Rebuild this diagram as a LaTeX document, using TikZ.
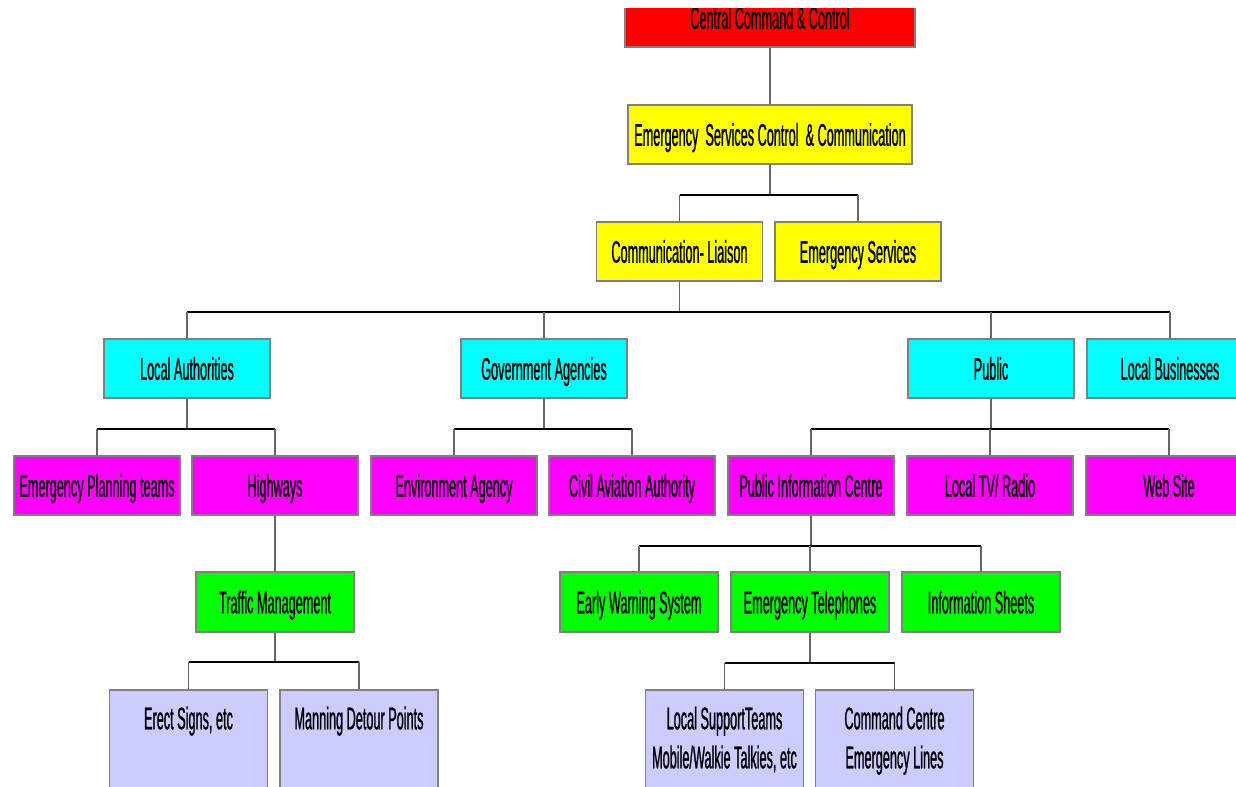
\documentclass[tikz,border=0pt]{standalone}
\usepackage{fontspec}
\newfontfamily\nar[FakeStretch=0.405,FakeBold=0.8]{Liberation Sans}
\definecolor{lav}{RGB}{204,204,255}
\definecolor{bord}{RGB}{128,128,128}
\definecolor{cred}{RGB}{255,0,0}
\definecolor{cyel}{RGB}{255,255,0}
\definecolor{ccya}{RGB}{0,255,255}
\definecolor{cmag}{RGB}{255,0,255}
\definecolor{cgrn}{RGB}{0,255,0}
\begin{document}
\begin{tikzpicture}[x=0.75pt,y=-0.75pt,
  tf/.style={font=\nar\fontsize{23.5pt}{29pt}\selectfont, text height=22.3pt, text depth=5.4pt},
  bx/.style={draw=bord, line width=1.2pt, inner sep=0pt, minimum height=59*0.75pt, minimum width=166*0.75pt, tf},
  yb/.style={bx, fill=cyel},
  cb/.style={bx, fill=ccya},
  mb/.style={bx, fill=cmag},
  gb/.style={bx, fill=cgrn, minimum width=158*0.75pt, minimum height=60*0.75pt},
  lb/.style={bx, fill=lav, minimum width=158*0.75pt, minimum height=140*0.75pt, anchor=north},
  txt/.style={inner sep=0pt, tf},
  vl/.style={draw=black!60, line width=1.3pt},
  hl/.style={draw=black, line width=1.6pt}]
\useasboundingbox (0,0) rectangle (1236,786);
\fill[white] (0,0) rectangle (1236,786);
\begin{scope}
\clip (0,8) rectangle (1236,786);
% level 0
\node[bx, fill=cred, minimum width=290*0.75pt] (cc) at (770,17.5) {Central Command \& Control};
% level 1
\node[yb, minimum width=284*0.75pt] (escc) at (770,134.5) {Emergency~ Services Control~ \& Communication};
% level 2
\node[yb] (cl) at (679.5,251.5) {Communication- Liaison};
\node[yb] (es) at (858,251.5) {Emergency Services};
% level 3
\node[cb] (la) at (187,368.5) {Local Authorities};
\node[cb] (ga) at (544,368.5) {Government Agencies};
\node[cb] (pub) at (991,368.5) {Public};
\node[cb] (lbz) at (1170,368.5) {Local Businesses};
% level 4
\node[mb] (ept) at (97,485.5) {Emergency Planning teams};
\node[mb] (hw) at (275,485.5) {Highways};
\node[mb] (env) at (454,485.5) {Environment Agency};
\node[mb] (caa) at (632,485.5) {Civil Aviation Authority};
\node[mb] (pic) at (811,485.5) {Public Information Centre};
\node[mb] (tv) at (990,485.5) {Local TV/ Radio};
\node[mb] (web) at (1169,485.5) {Web Site};
% level 5
\node[gb] (tm) at (275,602) {Traffic Management};
\node[gb] (ew) at (639,602) {Early Warning System};
\node[gb] (et) at (810,602) {Emergency Telephones};
\node[gb] (is) at (981,602) {Information Sheets};
% level 6
\node[lb] (erect) at (188.5,689) {};
\node[lb] (md) at (359,689) {};
\node[lb] (lst) at (724.5,689) {};
\node[lb] (ccl) at (894.5,689) {};
\node[txt] (erect-t) at (188.5,718) {Erect Signs, etc};
\node[txt] (md-t) at (359,718) {Manning Detour Points};
\node[txt] (lst-t1) at (724.5,718) {Local SupportTeams};
\node[txt] (lst-t2) at (724.5,757) {Mobile/Walkie Talkies, etc};
\node[txt] (ccl-t1) at (894.5,718) {Command Centre};
\node[txt] (ccl-t2) at (894.5,757) {Emergency Lines};
\end{scope}
% connectors
\draw[vl] (cc.south) -- (escc.north);
\coordinate (j1) at (770,195);
\draw[vl] (escc.south) -- (j1);
\draw[hl] (cl.north |- j1) -- (es.north |- j1);
\draw[vl] (cl.north |- j1) -- (cl.north);
\draw[vl] (es.north |- j1) -- (es.north);
% to level 3
\coordinate (j2) at (679.5,312);
\draw[vl] (cl.south) -- (j2);
\draw[hl] (la.north |- j2) -- (lbz.north |- j2);
\foreach \n in {la,ga,pub,lbz} {\draw[vl] (\n.north |- j2) -- (\n.north);}
% local authorities
\coordinate (j3) at (187,429);
\draw[vl] (la.south) -- (j3);
\draw[hl] (ept.north |- j3) -- (hw.north |- j3);
\foreach \n in {ept,hw} {\draw[vl] (\n.north |- j3) -- (\n.north);}
% government agencies
\coordinate (j4) at (544,429);
\draw[vl] (ga.south) -- (j4);
\draw[hl] (env.north |- j4) -- (caa.north |- j4);
\foreach \n in {env,caa} {\draw[vl] (\n.north |- j4) -- (\n.north);}
% public
\coordinate (j5) at (991,429);
\draw[vl] (pub.south) -- (j5);
\draw[hl] (pic.north |- j5) -- (web.north |- j5);
\foreach \n in {pic,tv,web} {\draw[vl] (\n.north |- j5) -- (\n.north);}
% highways
\draw[vl] (hw.south) -- (tm.north);
\coordinate (j6) at (275,662);
\draw[vl] (tm.south) -- (j6);
\draw[hl] (erect.north |- j6) -- (md.north |- j6);
\foreach \n in {erect,md} {\draw[vl] (\n.north |- j6) -- (\n.north);}
% public information centre
\coordinate (j7) at (811,546);
\draw[vl] (pic.south) -- (j7);
\draw[hl] (ew.north |- j7) -- (is.north |- j7);
\foreach \n in {ew,et,is} {\draw[vl] (\n.north |- j7) -- (\n.north);}
% emergency telephones
\coordinate (j8) at (810,663);
\draw[vl] (et.south) -- (j8);
\draw[hl] (lst.north |- j8) -- (ccl.north |- j8);
\foreach \n in {lst,ccl} {\draw[vl] (\n.north |- j8) -- (\n.north);}
\end{tikzpicture}
\end{document}
